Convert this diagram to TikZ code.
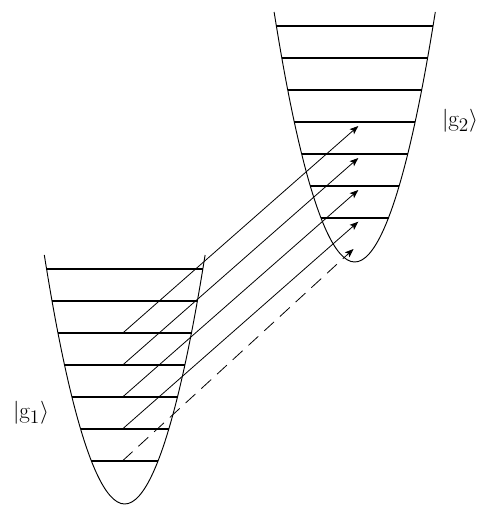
\documentclass[tikz,border=0pt]{standalone}
\usetikzlibrary{arrows.meta}
\begin{document}
\begin{tikzpicture}[x=0.75pt,y=-0.75pt,
  well/.style={line width=0.7pt},
  level/.style={line width=1.5pt},
  trans/.style={line width=0.6pt,-{Stealth[length=6.5pt,width=5pt,inset=1.5pt]}},
  weak/.style={trans,dash pattern=on 10pt off 6pt},
  ket/.style={inner sep=0pt,font=\fontsize{19}{22}\selectfont}]
\useasboundingbox (0,0) rectangle (477,506);
% left well
\draw[well] (44.3,255) parabola bend (124.7,504) (205.1,255);
\foreach \k in {1,...,7}{
  \pgfmathsetmacro\yy{269.3+31.9*(\k-1)}
  \pgfmathsetmacro\hw{sqrt((504-\yy)/0.0385)}
  \draw[level] ({124.7-\hw},\yy) -- ({124.7+\hw},\yy);
  \coordinate (L\k) at (122.7,\yy);
}
% right well
\draw[well] (274.1,12) parabola bend (354.7,262) (435.3,12);
\foreach \k in {1,...,7}{
  \pgfmathsetmacro\yy{25.7+32*(\k-1)}
  \pgfmathsetmacro\hw{sqrt((262-\yy)/0.0385)}
  \draw[level] ({354.7-\hw},\yy) -- ({354.7+\hw},\yy);
}
% arrow tips
\coordinate (T4) at (358.3,126);
\coordinate (T5) at (358.3,158);
\coordinate (T6) at (358.3,190);
\coordinate (T7) at (358.3,221.7);
\coordinate (T0) at (353.5,249);
\draw[trans] (L3) -- (T4);
\draw[trans] (L4) -- (T5);
\draw[trans] (L5) -- (T6);
\draw[trans] (L6) -- (T7);
\draw[weak] (L7) -- (T0);
% labels
\node[ket] (g1) at (31,413) {$|\mathrm{g}_1\rangle$};
\node[ket] (g2) at (460,121) {$|\mathrm{g}_2\rangle$};
\end{tikzpicture}
\end{document}
